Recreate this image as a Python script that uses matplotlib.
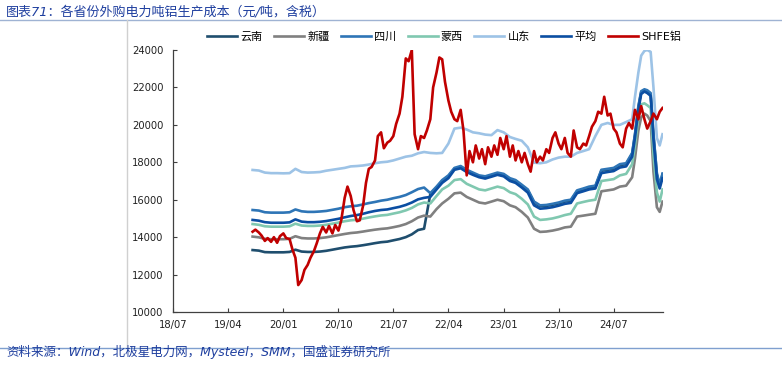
import pandas as pd
import matplotlib
matplotlib.use('Agg')
import matplotlib.pyplot as plt
import matplotlib.dates as mdates
from matplotlib.lines import Line2D

plt.rcParams['font.family'] = ['DejaVu Sans', 'Noto Sans CJK SC']

# cost series: monthly to 2024-09, then half-monthly to 2025-03
cost_dates = list(pd.date_range('2019-08-01', '2024-09-01', freq='MS')) + \
    list(pd.date_range('2024-10-01', '2025-03-01', freq='SMS'))

yunnan = [13310, 13280, 13200, 13190, 13190, 13190, 13210, 13330, 13230, 13210, 13210, 13230,
          13270, 13330, 13390, 13450, 13490, 13520, 13570, 13620, 13680, 13730, 13760, 13830,
          13900, 14000, 14150, 14380, 14450, 16300, 16650, 17000, 17250, 17650, 17750, 17550,
          17400, 17250, 17200, 17300, 17400, 17330, 17100, 17000, 16750, 16500, 15850, 15650,
          15670, 15730, 15800, 15900, 15950, 16450, 16550, 16650, 16700, 17550, 17600, 17650,
          17850, 17900,
          18450, 19450, 20950, 21750, 21850, 21800, 21650, 19450, 17350, 16750, 17350]
xinjiang = [14030, 13990, 13910, 13890, 13890, 13890, 13910, 14050, 13950, 13930, 13930, 13950,
            13990, 14050, 14110, 14170, 14220, 14250, 14300, 14350, 14400, 14440, 14470, 14530,
            14600, 14700, 14850, 15050, 15150, 15100, 15500, 15800, 16050, 16340, 16380, 16150,
            16000, 15850, 15800, 15900, 16000, 15920, 15700, 15600, 15350, 15050, 14450, 14280,
            14300, 14350, 14420, 14520, 14560, 15100, 15150, 15200, 15250, 16450, 16500, 16550,
            16700, 16750,
            17200, 18200, 19700, 20400, 20600, 20500, 20200, 17500, 15600, 15350, 15900]
sichuan = [15450, 15420, 15330, 15310, 15310, 15310, 15330, 15480, 15380, 15350, 15350, 15370,
           15400, 15460, 15520, 15600, 15650, 15680, 15750, 15820, 15880, 15950, 16000, 16080,
           16150, 16250, 16400, 16570, 16650, 16350, 16700, 17050, 17300, 17700, 17800, 17600,
           17450, 17300, 17250, 17350, 17450, 17380, 17150, 17050, 16800, 16550, 15900, 15700,
           15720, 15780, 15850, 15950, 16000, 16500, 16600, 16700, 16750, 17600, 17650, 17700,
           17900, 17950,
           18500, 19500, 21000, 21800, 21900, 21850, 21700, 19500, 17400, 16800, 17400]
mengxi = [14700, 14660, 14580, 14560, 14560, 14560, 14580, 14720, 14620, 14600, 14600, 14620,
          14660, 14720, 14780, 14850, 14900, 14930, 14990, 15050, 15110, 15160, 15190, 15260,
          15330, 15430, 15560, 15750, 15850, 15800, 16200, 16550, 16750, 17050, 17100, 16850,
          16700, 16550, 16500, 16600, 16700, 16620, 16400, 16300, 16050, 15750, 15100, 14920,
          14950, 15000, 15080, 15180, 15250, 15800, 15880, 15950, 16000, 17000, 17050, 17100,
          17300, 17380,
          17900, 18900, 20400, 21100, 21150, 21050, 20900, 18400, 16400, 15900, 16550]
shandong = [17590, 17560, 17450, 17420, 17420, 17410, 17420, 17650, 17480, 17450, 17460, 17480,
            17550, 17600, 17650, 17700, 17780, 17800, 17830, 17880, 17950, 18000, 18030, 18100,
            18200, 18300, 18350, 18480, 18550, 18500, 18480, 18500, 19000, 19800, 19850, 19750,
            19600, 19550, 19480, 19450, 19720, 19600, 19350, 19250, 19150, 18800, 17980, 17950,
            18000, 18150, 18250, 18300, 18300, 18500, 18600, 18700, 19400, 20000, 20100, 20000,
            20000, 20150,
            20300, 21500, 22800, 23700, 23950, 24000, 23900, 22000, 19300, 18900, 19500]
average = [14920, 14880, 14800, 14770, 14770, 14770, 14790, 14950, 14830, 14800, 14800, 14820,
           14860, 14920, 14980, 15060, 15130, 15180, 15250, 15330, 15400, 15450, 15480, 15550,
           15620, 15720, 15850, 16020, 16100, 16150, 16550, 16900, 17150, 17600, 17680, 17480,
           17330, 17200, 17130, 17230, 17330, 17250, 17000, 16900, 16650, 16380, 15700, 15520,
           15550, 15600, 15680, 15780, 15830, 16350, 16450, 16550, 16600, 17420, 17480, 17530,
           17720, 17780,
           18300, 19300, 20800, 21650, 21780, 21700, 21550, 19200, 17100, 16600, 17150]

# SHFE aluminium, half-monthly
shfe_dates = pd.date_range('2019-08-01', periods=135, freq='SMS')
shfe = [14290, 14400, 14250, 14080, 13800, 13950, 13750, 14000, 13700, 14050,
        14200, 13950, 13900, 13350, 12900, 11440, 11710, 12250, 12520, 12900,
        13250, 13670, 14200, 14550, 14250, 14600, 14200, 14650, 14350, 14900,
        16100, 16700, 16200, 15450, 14850, 14900, 15700, 16900, 17650, 17750,
        18100, 19400, 19600, 18750, 19050, 19150, 19400, 20050, 20600, 21500,
        23550, 23400, 24000, 19500, 18700, 19400, 19300, 19700, 20300, 22000,
        22800, 23600, 23500, 22300, 21300, 20700, 20300, 20200, 20800, 19700,
        17300, 18600, 18000, 18900, 18200, 18700, 17900, 18800, 18300, 18900,
        18400, 19300, 18700, 19400, 18300, 18900, 18100, 18600, 18000, 18500,
        17900, 17500, 18600, 18000, 18300, 18100, 18700, 18500, 19300, 19600,
        19000, 18700, 19300, 18500, 18300, 19700, 18800, 18700, 19000, 18900,
        19400, 19900, 20200, 20700, 20600, 21500, 20500, 20600, 19800, 19600,
        19000, 18800, 19800, 20100, 19800, 20800, 20300, 21000, 20300, 19800,
        20200, 20600, 20300, 20700, 20900]

series = [
    ('云南', yunnan, '#1f4e6e'),
    ('新疆', xinjiang, '#808080'),
    ('四川', sichuan, '#2e75b6'),
    ('蒙西', mengxi, '#80c8b0'),
    ('山东', shandong, '#9dc3e6'),
    ('平均', average, '#0b4ea2'),
]

fig = plt.figure(figsize=(7.82, 3.66), dpi=100)
ax = fig.add_axes([0.2212, 0.1475, 0.6260, 0.7159])

for name, vals, c in series:
    ax.plot(cost_dates, vals, color=c, lw=1.9, label=name)
ax.plot(shfe_dates, shfe, color='#c00000', lw=1.9, label='SHFE铝')

ax.set_ylim(10000, 24000)
ax.set_yticks(range(10000, 24001, 2000))
ax.set_xlim(pd.Timestamp('2018-07-01'), pd.Timestamp('2025-03-01'))
xt = pd.date_range('2018-07-01', '2024-07-01', freq='9MS')
ax.set_xticks(xt)
ax.xaxis.set_major_formatter(mdates.DateFormatter('%y/%m'))

for s in ['top', 'right']:
    ax.spines[s].set_visible(False)
for s in ['left', 'bottom']:
    ax.spines[s].set_color('#404040')
    ax.spines[s].set_linewidth(0.9)
ax.tick_params(direction='in', length=3, width=0.8, color='#404040',
               labelsize=7.2, labelcolor='#222222')
ax.tick_params(axis='y', pad=7)
ax.tick_params(axis='x', pad=6)

fig.legend(loc='center', bbox_to_anchor=(0.568, 0.899), ncol=7, frameon=False,
           fontsize=8, handlelength=2.7, handletextpad=0.3, columnspacing=1.0)

# header / footer
fig.text(0.008, 0.967, '图表71：各省份外购电力吨铝生产成本（元/吨，含税）', fontsize=9.4,
         color='#1f3f9f', style='italic', va='center', ha='left')
fig.text(0.008, 0.038, '资料来源：Wind，北极星电力网，Mysteel，SMM，国盛证券研究所', fontsize=9,
         color='#1f3f9f', style='italic', va='center', ha='left')
fig.add_artist(Line2D([0, 1], [1 - 20 / 366, 1 - 20 / 366], transform=fig.transFigure,
                      color='#9fb3d3', lw=1))
fig.add_artist(Line2D([0, 1], [1 - 348 / 366, 1 - 348 / 366], transform=fig.transFigure,
                      color='#7f9fcf', lw=1))
fig.add_artist(Line2D([127 / 782, 127 / 782], [1 - 348 / 366, 1 - 20 / 366],
                      transform=fig.transFigure, color='#d0d0d0', lw=1))

fig.savefig('out.png', dpi=100)
